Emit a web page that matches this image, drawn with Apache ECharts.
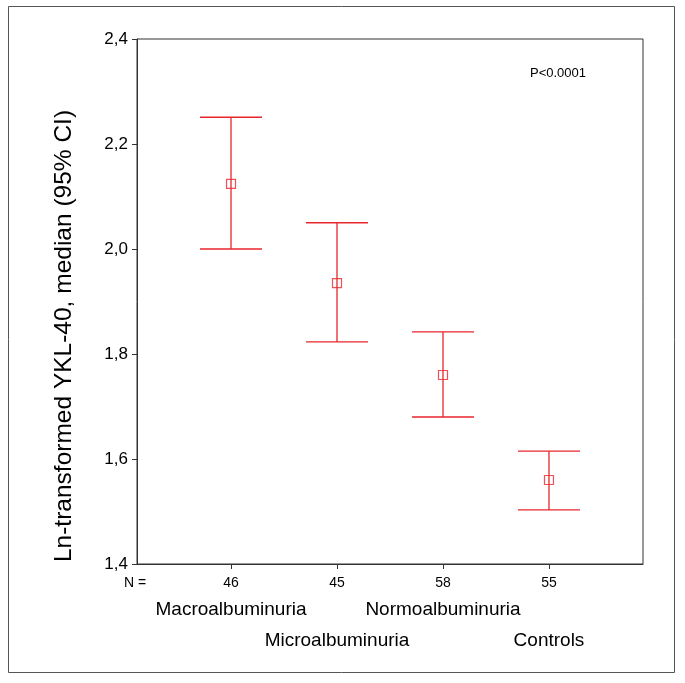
<!DOCTYPE html>
<html>
<head>
<meta charset="utf-8">
<script src="https://cdn.jsdelivr.net/npm/echarts@6/dist/echarts.min.js"></script>
<style>
    html, body { margin: 0; padding: 0; background: #fff; }
    #chart { width: 685px; height: 683px; }
</style>
</head>
<body>
<div id="chart"></div>
<script>
var groups = ['Macroalbuminuria', 'Microalbuminuria', 'Normoalbuminuria', 'Controls'];
var nCounts = [46, 45, 58, 55];
var medians = [2.124, 1.935, 1.760, 1.560];
var lowerCI = [2.000, 1.823, 1.680, 1.503];
var upperCI = [2.251, 2.050, 1.842, 1.615];
var yTicks = [1.4, 1.6, 1.8, 2.0, 2.2, 2.4];

document.addEventListener("DOMContentLoaded", function () {
    var red = '#e8262c';
    var font = 'Liberation Sans, Arial, Helvetica, sans-serif';
    var xMin = 0.113, xMax = 4.887;

    var barData = [];
    var medData = [];
    for (var i = 0; i < groups.length; i++) {
        barData.push([i + 1, lowerCI[i], upperCI[i]]);
        medData.push([i + 1, medians[i]]);
    }

    var chart = echarts.init(document.getElementById('chart'));
    var option = {
        animation: false,
        textStyle: { fontFamily: font },
        grid: {
            left: 137, top: 39, right: 42, bottom: 119,
            show: true,
            borderColor: '#333',
            borderWidth: 1
        },
        graphic: [
            {
                type: 'rect',
                shape: { x: 8.5, y: 6.5, width: 666, height: 666 },
                style: { fill: 'none', stroke: '#555', lineWidth: 1 },
                silent: true
            },
            {
                type: 'text',
                x: 64, y: 336,
                rotation: Math.PI / 2,
                style: {
                    text: 'Ln-transformed YKL-40, median (95% CI)',
                    font: '24.5px ' + font,
                    fill: '#000',
                    align: 'center',
                    verticalAlign: 'middle'
                }
            },
            {
                type: 'text',
                x: 135, y: 583,
                style: {
                    text: 'N =',
                    font: '14px ' + font,
                    fill: '#000',
                    align: 'center',
                    verticalAlign: 'middle'
                }
            },
            {
                type: 'text',
                x: 558, y: 73,
                style: {
                    text: 'P<0.0001',
                    font: '13px ' + font,
                    fill: '#000',
                    align: 'center',
                    verticalAlign: 'middle'
                }
            }
        ],
        xAxis: [
            {
                type: 'value', min: xMin, max: xMax,
                position: 'bottom',
                axisLine: { show: true, lineStyle: { color: '#333', width: 1 } },
                axisTick: { show: true, customValues: [1, 2, 3, 4], length: 5, lineStyle: { color: '#333' } },
                axisLabel: {
                    customValues: [1, 2, 3, 4],
                    formatter: function (v) { return String(nCounts[Math.round(v) - 1]); },
                    fontSize: 14, color: '#000', margin: 12
                },
                splitLine: { show: false }
            },
            {
                type: 'value', min: xMin, max: xMax,
                position: 'bottom',
                axisLine: { show: false },
                axisTick: { show: false },
                axisLabel: {
                    customValues: [1, 3],
                    formatter: function (v) { return groups[Math.round(v) - 1]; },
                    fontSize: 19, color: '#000', margin: 36
                },
                splitLine: { show: false }
            },
            {
                type: 'value', min: xMin, max: xMax,
                position: 'bottom',
                axisLine: { show: false },
                axisTick: { show: false },
                axisLabel: {
                    customValues: [2, 4],
                    formatter: function (v) { return groups[Math.round(v) - 1]; },
                    fontSize: 19, color: '#000', margin: 67
                },
                splitLine: { show: false }
            }
        ],
        yAxis: {
            type: 'value', min: yTicks[0], max: yTicks[yTicks.length - 1], interval: 0.2,
            axisLine: { show: true, lineStyle: { color: '#333', width: 1 } },
            axisTick: { show: true, length: 5, lineStyle: { color: '#333' } },
            axisLabel: {
                fontSize: 17, color: '#000', margin: 9,
                formatter: function (v) { return v.toFixed(1).replace('.', ','); }
            },
            splitLine: { show: false }
        },
        series: [
            {
                type: 'custom',
                xAxisIndex: 0,
                data: barData,
                renderItem: function (params, api) {
                    var x = api.value(0);
                    var lo = api.coord([x, api.value(1)]);
                    var hi = api.coord([x, api.value(2)]);
                    var hw = 31;
                    var st = { stroke: red, lineWidth: 1.3 };
                    return {
                        type: 'group',
                        children: [
                            { type: 'line', shape: { x1: hi[0], y1: hi[1], x2: lo[0], y2: lo[1] }, style: st },
                            { type: 'line', shape: { x1: hi[0] - hw, y1: hi[1], x2: hi[0] + hw, y2: hi[1] }, style: st },
                            { type: 'line', shape: { x1: lo[0] - hw, y1: lo[1], x2: lo[0] + hw, y2: lo[1] }, style: st }
                        ]
                    };
                }
            },
            {
                type: 'scatter',
                xAxisIndex: 0,
                data: medData,
                symbol: 'rect',
                symbolSize: 9,
                itemStyle: { color: 'rgba(0,0,0,0)', borderColor: red, borderWidth: 1.2 },
                z: 3
            }
        ]
    };
    chart.setOption(option);
});
</script>
</body>
</html>
